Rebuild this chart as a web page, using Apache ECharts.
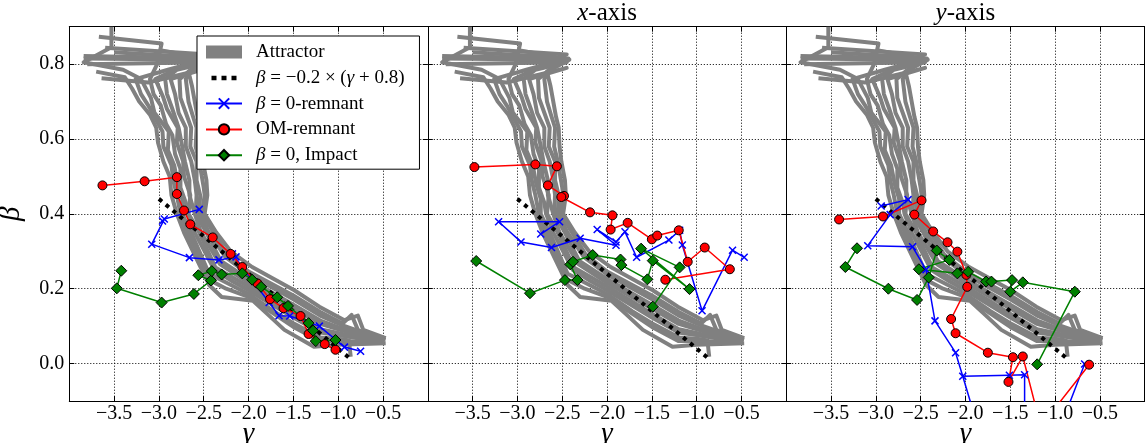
<!DOCTYPE html>
<html><head><meta charset="utf-8">
<script src="https://cdn.jsdelivr.net/npm/echarts@6/dist/echarts.min.js"></script>
<style>html,body{margin:0;padding:0;background:#fff}#c{width:1145px;height:443px}</style>
</head><body><div id="c"></div>
<script>
// ---------- data ----------
const xTicks = [-3.5, -3.0, -2.5, -2.0, -1.5, -1.0, -0.5];
const yTicks = [0.0, 0.2, 0.4, 0.6, 0.8];
const panelTitles = ['', '{i|x}-axis', '{i|y}-axis'];
const seriesNames = ['Attractor', 'β = −0.2 × (γ + 0.8)', 'β = 0-remnant', 'OM-remnant', 'β = 0, Impact'];

const fitLine = [[-3.0, 0.44], [-0.85, 0.01]];

const attractor = [
  [[-3.70,0.78],[-3.38,0.765],[-3.30,0.735],[-3.22,0.70],[-3.10,0.665],[-3.03,0.63],[-3.01,0.59],[-2.95,0.54],[-2.88,0.50],[-2.86,0.45],[-2.80,0.40],[-2.72,0.35],[-2.58,0.28],[-2.44,0.21],[-2.30,0.178],[-1.95,0.168],[-1.78,0.13],[-1.60,0.09],[-1.27,0.045],[-1.00,0.05],[-0.47,0.054]],
  [[-3.84,0.822],[-2.43,0.815],[-2.90,0.785],[-3.26,0.76],[-3.20,0.72],[-3.12,0.69],[-3.05,0.66],[-2.96,0.62],[-2.95,0.58],[-2.86,0.53],[-2.84,0.49],[-2.80,0.45],[-2.76,0.40],[-2.68,0.35],[-2.50,0.26],[-2.45,0.225],[-2.25,0.20],[-2.0,0.178],[-1.5,0.098],[-1.2,0.06],[-0.95,0.06],[-0.5,0.056]],
  [[-3.53,0.90],[-3.53,0.845],[-3.84,0.805],[-3.40,0.785],[-3.20,0.76],[-3.09,0.71],[-3.05,0.67],[-2.89,0.62],[-2.90,0.57],[-2.83,0.53],[-2.79,0.48],[-2.74,0.44],[-2.74,0.40],[-2.64,0.35],[-2.44,0.24],[-2.0,0.186],[-1.72,0.14],[-1.5,0.108],[-1.2,0.07],[-0.95,0.065],[-0.88,0.062],[-0.86,0.018]],
  [[-3.67,0.873],[-2.97,0.855],[-3.02,0.80],[-3.10,0.76],[-3.06,0.72],[-2.98,0.69],[-2.92,0.64],[-2.85,0.61],[-2.82,0.56],[-2.76,0.52],[-2.76,0.47],[-2.70,0.43],[-2.68,0.40],[-2.60,0.35],[-2.38,0.25],[-2.18,0.22],[-2.0,0.196],[-1.5,0.123],[-1.2,0.083],[-0.95,0.074],[-0.55,0.058]],
  [[-3.60,0.844],[-2.45,0.826],[-3.04,0.76],[-2.95,0.71],[-2.91,0.68],[-2.79,0.63],[-2.80,0.59],[-2.73,0.54],[-2.72,0.50],[-2.65,0.45],[-2.67,0.40],[-2.55,0.35],[-2.37,0.257],[-2.0,0.206],[-1.75,0.17],[-1.5,0.133],[-1.2,0.092],[-0.95,0.079],[-0.48,0.06]],
  [[-3.80,0.800],[-2.45,0.805],[-2.80,0.785],[-2.93,0.76],[-2.91,0.72],[-2.85,0.68],[-2.78,0.63],[-2.74,0.58],[-2.71,0.54],[-2.66,0.49],[-2.66,0.45],[-2.60,0.40],[-2.53,0.35],[-2.32,0.266],[-2.0,0.216],[-1.5,0.147],[-1.2,0.106],[-0.95,0.088],[-0.6,0.062]],
  [[-3.64,0.762],[-3.12,0.751],[-2.45,0.79],[-2.87,0.76],[-2.82,0.72],[-2.78,0.67],[-2.70,0.63],[-2.70,0.58],[-2.64,0.54],[-2.60,0.49],[-2.58,0.45],[-2.59,0.40],[-2.47,0.35],[-2.31,0.274],[-2.0,0.226],[-1.5,0.157],[-1.2,0.115],[-0.95,0.093],[-0.47,0.064]],
  [[-3.84,0.815],[-2.50,0.812],[-2.77,0.76],[-2.76,0.71],[-2.70,0.67],[-2.64,0.63],[-2.65,0.58],[-2.58,0.54],[-2.58,0.49],[-2.54,0.45],[-2.55,0.40],[-2.44,0.35],[-2.26,0.285],[-2.0,0.238],[-1.5,0.172],[-1.2,0.128],[-0.95,0.102],[-0.52,0.066]],
  [[-3.50,0.832],[-2.55,0.818],[-2.70,0.76],[-2.67,0.70],[-2.62,0.66],[-2.58,0.63],[-2.59,0.58],[-2.55,0.54],[-2.50,0.47],[-2.49,0.45],[-2.52,0.40],[-2.39,0.35],[-2.24,0.292],[-2.0,0.246],[-1.5,0.182],[-1.2,0.138],[-0.95,0.107],[-0.85,0.13],[-0.78,0.09],[-0.6,0.068]],
  [[-3.00,0.838],[-2.42,0.812],[-2.67,0.78],[-2.63,0.74],[-2.60,0.70],[-2.57,0.66],[-2.54,0.63],[-2.53,0.58],[-2.51,0.54],[-2.47,0.49],[-2.46,0.45],[-2.49,0.40],[-2.36,0.35],[-2.20,0.30],[-1.96,0.258],[-1.49,0.196],[-1.21,0.152],[-0.93,0.116],[-0.78,0.128],[-0.72,0.09],[-0.47,0.068]]
];

// panel 1 (all axes)
const b0Remnant1 = [[-2.55,0.412],[-2.94,0.386],[-2.96,0.381],[-3.08,0.319],[-2.66,0.283],[-2.33,0.277],[-2.14,0.285],[-2.18,0.293],[-1.77,0.163],[-1.66,0.128],[-1.54,0.127],[-1.21,0.10],[-0.93,0.044],[-0.75,0.033]];
const omRemnant1 = [[-3.63,0.476],[-3.16,0.487],[-2.80,0.498],[-2.80,0.453],[-2.72,0.409],[-2.65,0.372],[-2.40,0.337],[-2.20,0.293],[-2.07,0.258],[-1.90,0.214],[-1.76,0.172],[-1.61,0.148],[-1.42,0.127],[-1.33,0.079],[-1.15,0.052],[-1.03,0.037]];
const b0Impact1 = [[-3.42,0.248],[-3.47,0.201],[-2.97,0.163],[-2.61,0.186],[-2.42,0.222],[-2.56,0.236],[-2.41,0.247],[-2.30,0.238],[-2.07,0.241],[-1.96,0.224],[-1.86,0.205],[-1.68,0.177],[-1.56,0.154],[-1.33,0.108],[-1.28,0.088],[-1.25,0.06],[-1.03,0.063]];
// panel 2 (x-axis)
const b0Remnant2 = [[-2.74,0.346],[-2.53,0.379],[-3.21,0.379],[-2.96,0.325],[-2.62,0.31],[-2.30,0.335],[-1.90,0.316],[-2.11,0.358],[-1.90,0.325],[-1.80,0.352],[-1.67,0.284],[-1.31,0.33],[-1.19,0.356],[-1.16,0.317],[-0.94,0.141],[-0.60,0.303],[-0.47,0.284]];
const omRemnant2 = [[-3.48,0.525],[-2.80,0.532],[-2.56,0.527],[-2.66,0.476],[-2.48,0.448],[-2.51,0.445],[-2.19,0.404],[-1.94,0.396],[-1.96,0.358],[-1.77,0.376],[-1.50,0.332],[-1.44,0.342],[-1.20,0.356],[-1.10,0.272],[-0.91,0.310],[-0.63,0.252],[-1.35,0.224]];
const b0Impact2 = [[-3.46,0.274],[-2.86,0.188],[-2.47,0.223],[-2.33,0.223],[-2.41,0.265],[-2.38,0.272],[-2.16,0.29],[-1.85,0.278],[-1.84,0.263],[-1.55,0.225],[-1.49,0.275],[-1.08,0.199],[-1.62,0.307],[-1.19,0.257],[-1.49,0.152]];
// panel 3 (y-axis)
const b0Remnant3 = [[-2.94,0.421],[-2.64,0.438],[-2.84,0.398],[-3.09,0.315],[-2.59,0.312],[-2.44,0.251],[-2.34,0.114],[-2.11,0.029],[-2.03,-0.034],[-1.51,-0.031],[-1.34,-0.030],[-1.34,-0.30],[-1.15,-0.30],[-0.67,-0.001]];
const b0Remnant3b = [[-2.03,-0.034],[-1.76,-0.25]];
const omRemnant3 = [[-3.41,0.385],[-2.92,0.393],[-2.49,0.436],[-2.57,0.398],[-2.36,0.353],[-2.20,0.324],[-2.09,0.299],[-1.99,0.237],[-1.98,0.205],[-2.16,0.119],[-2.11,0.081],[-1.75,0.029],[-1.47,0.017],[-1.52,-0.049],[-1.36,0.019],[-1.16,-0.168],[-0.62,-0.003]];
const b0Impact3 = [[-3.21,0.308],[-3.34,0.258],[-2.86,0.2],[-2.54,0.17],[-2.41,0.23],[-2.32,0.302],[-2.18,0.277],[-2.52,0.252],[-2.09,0.241],[-1.97,0.245],[-1.77,0.219],[-1.71,0.219],[-1.48,0.223],[-1.50,0.192],[-1.36,0.217],[-0.78,0.192],[-1.20,-0.002]];

const panels = [
  {blue: [b0Remnant1], red: omRemnant1, green: b0Impact1},
  {blue: [b0Remnant2], red: omRemnant2, green: b0Impact2},
  {blue: [b0Remnant3, b0Remnant3b], red: omRemnant3, green: b0Impact3}
];

// ---------- layout / style ----------
const FONT = 'Liberation Serif';
const gridLefts = [69.3, 427.8, 786.2];
const GW = 358.5, GT = 26.7, GH = 374.3;
const xFmt = v => (v < 0 ? '\u2212' : '') + Math.abs(v).toFixed(1);
const yFmt = v => v.toFixed(1);
const XPATH = 'path://M0,0L10,10M10,0L0,10';
const DOTS = 'path://M0,0M36,13M5.5,4.5h5v4.5h-5zM15.5,4.5h5v4.5h-5zM25.5,4.5h5v4.5h-5z';

const grids = [], xAxes = [], yAxes = [], series = [], titles = [];
const axisLine = {show: true, onZero: false, lineStyle: {color: '#000', width: 1}};
const tickStyle = {show: true, inside: true, length: 5, lineStyle: {color: '#000', width: 1}};
const split = {show: true, lineStyle: {color: '#000', width: 1, type: [1, 2]}};

for (let p = 0; p < 3; p++) {
  grids.push({left: gridLefts[p], top: GT, width: GW, height: GH, containLabel: false, outerBoundsMode: 'none'});
}
for (let p = 0; p < 3; p++) {
  xAxes.push({
    type: 'value', gridIndex: p, position: 'bottom', min: -4, max: 0, interval: 0.5,
    axisLine, axisTick: Object.assign({customValues: xTicks}, tickStyle),
    axisLabel: {customValues: xTicks, formatter: xFmt, margin: 3, color: '#000', fontFamily: FONT, fontSize: 20},
    splitLine: split,
    name: 'γ', nameLocation: 'middle', nameGap: 19, nameMoveOverlap: false,
    nameTextStyle: {fontFamily: FONT, fontStyle: 'italic', fontSize: 29, color: '#000'}
  });
  yAxes.push({
    type: 'value', gridIndex: p, position: 'left', min: -0.1, max: 0.9, splitNumber: 5,
    axisLine, axisTick: Object.assign({customValues: yTicks}, tickStyle),
    axisLabel: {show: p === 0, customValues: yTicks, formatter: yFmt, margin: 5, color: '#000', fontFamily: FONT, fontSize: 20},
    splitLine: split,
    name: p === 0 ? 'β' : '', nameLocation: 'middle', nameGap: 43, nameRotate: 90,
    nameTextStyle: {fontFamily: FONT, fontStyle: 'italic', fontSize: 29, color: '#000'}
  });
}
for (let p = 0; p < 3; p++) {
  xAxes.push({
    type: 'value', gridIndex: p, position: 'top', min: -4, max: 0, interval: 0.5,
    axisLine, axisTick: Object.assign({customValues: xTicks}, tickStyle),
    axisLabel: {show: false}, splitLine: {show: false}
  });
  yAxes.push({
    type: 'value', gridIndex: p, position: 'right', min: -0.1, max: 0.9, splitNumber: 5,
    axisLine, axisTick: Object.assign({customValues: yTicks}, tickStyle),
    axisLabel: {show: false}, splitLine: {show: false}
  });
}

for (let p = 0; p < 3; p++) {
  const base = {type: 'line', xAxisIndex: p, yAxisIndex: p, silent: true, animation: false, clip: true};
  attractor.forEach(s => series.push(Object.assign({}, base, {
    name: seriesNames[0], data: s, symbol: 'none',
    lineStyle: {color: '#808080', width: 4, join: 'round'}, itemStyle: {color: '#808080'}
  })));
  series.push(Object.assign({}, base, {
    name: seriesNames[1], data: fitLine, symbol: 'none',
    lineStyle: {color: '#000', width: 4, type: [4, 5]}, itemStyle: {color: '#000'}
  }));
  panels[p].blue.forEach((s, i) => series.push(Object.assign({}, base, {
    name: seriesNames[2], data: s, symbol: i === 0 ? XPATH : 'none', symbolSize: 7,
    lineStyle: {color: '#0000ff', width: 1.5},
    itemStyle: {color: '#0000ff', borderColor: '#0000ff', borderWidth: 1.5}
  })));
  series.push(Object.assign({}, base, {
    name: seriesNames[3], data: panels[p].red, symbol: 'circle', symbolSize: 9,
    lineStyle: {color: '#ff0000', width: 1.5},
    itemStyle: {color: '#ff0000', borderColor: '#000', borderWidth: 1}
  }));
  series.push(Object.assign({}, base, {
    name: seriesNames[4], data: panels[p].green, symbol: 'diamond', symbolSize: 11,
    lineStyle: {color: '#008000', width: 1.5},
    itemStyle: {color: '#008000', borderColor: '#000', borderWidth: 1}
  }));
  if (panelTitles[p]) {
    titles.push({
      text: panelTitles[p], left: gridLefts[p] + GW / 2, top: 1, textAlign: 'center', padding: 0,
      textStyle: {fontFamily: FONT, fontSize: 25, fontWeight: 'normal', color: '#000',
        rich: {i: {fontFamily: FONT, fontStyle: 'italic', fontSize: 25, color: '#000'}}}
    });
  }
}

const chart = echarts.init(document.getElementById('c'), null, {renderer: 'canvas'});
chart.setOption({
  animation: false,
  backgroundColor: '#fff',
  title: titles,
  grid: grids, xAxis: xAxes, yAxis: yAxes, series,
  legend: {
    orient: 'vertical', left: 197, top: 36, z: 20,
    data: [{name: seriesNames[0], icon: 'rect'}, {name: seriesNames[1], icon: DOTS},
      seriesNames[2], seriesNames[3], seriesNames[4]],
    itemWidth: 36, itemHeight: 13, itemGap: 5.8, padding: [6, 15, 4, 8],
    backgroundColor: '#fff', borderColor: '#000', borderWidth: 1, borderRadius: 0,
    selectedMode: false,
    formatter: n => n.replace(/([βγ])/g, '{i|$1}'),
    textStyle: {fontFamily: FONT, fontSize: 19, color: '#000', lineHeight: 20, padding: [0, 0, 0, 9],
      rich: {i: {fontFamily: FONT, fontStyle: 'italic', fontSize: 19, lineHeight: 20, color: '#000'}}}
  }
});
</script></body></html>
